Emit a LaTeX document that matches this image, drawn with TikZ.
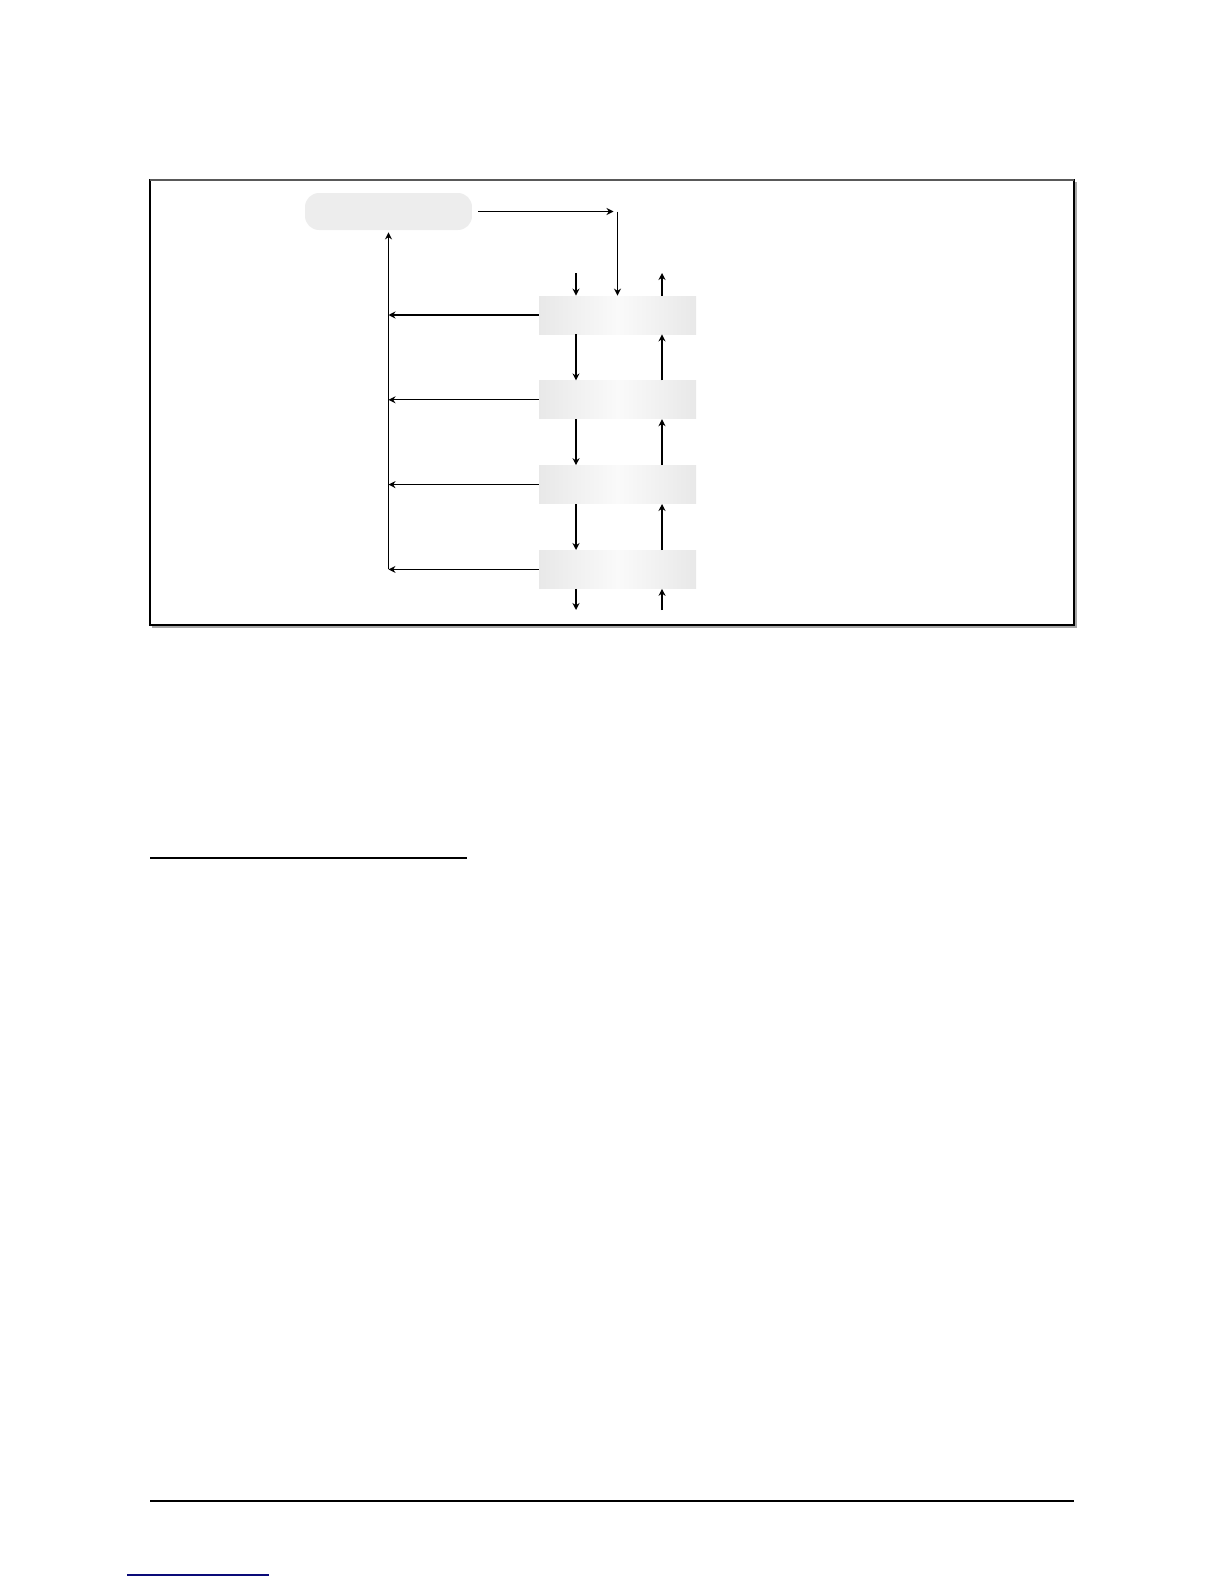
\documentclass[tikz,border=0pt]{standalone}
\usetikzlibrary{positioning,arrows.meta}
\definecolor{linknavy}{RGB}{10,10,120}

\begin{document}
\begin{tikzpicture}[x=0.5pt,y=-0.5pt,link/.style={draw,-{Stealth[length=3.5pt,width=3.5pt]},line width=0.6pt},stage/.style={left color=black!9,right color=black!9,middle color=black!2,minimum height=19pt,minimum width=78.5pt,inner sep=0pt},topbox/.style={stage,left color=black!7,right color=black!7,rounded corners=7pt,minimum height=18.5pt,minimum width=83.5pt}]
  \useasboundingbox (0,0) rectangle (1224,1584);
  % frame with shadow
  \draw[gray!70,line width=0.6pt] (1076,182) -- (1076,627) -- (152,627);
  \draw[line width=0.7pt] (150,180) rectangle (1074,625);
  \draw[black!65,line width=1.2pt] (150,180) -- (1074,180);
  \node[topbox] (t) at (388.5,211.5) {};
  \node[stage] (b1) at (617.5,315) {};
  \node[stage] (b2) [below=23pt of b1] {};
  \node[stage] (b3) [below=23pt of b2] {};
  \node[stage] (b4) [below=23pt of b3] {};
  \coordinate (dn) at (576,273);
  \coordinate (up) at (662,273);
  \coordinate (dnout) at (576,610);
  \coordinate (upin) at (662,610);
  \coordinate (c) at ([xshift=-2pt]t.east -| b1.north);
  \draw[link] ([xshift=3pt]t.east) -- (c); \draw[link] (t.east -| b1.north) -- (b1.north);
  \draw[link] (dn) -- (b1.north -| dn); \draw[link] (b1.north -| up) -- (up);
  \foreach \i/\j in {b1/b2,b2/b3,b3/b4} {
    \draw[link] (\i.south -| dn) -- (\j.north -| dn);
    \draw[link] (\j.north -| up) -- (\i.south -| up);
  }
  \draw[link] (b4.south -| dn) -- (dnout); \draw[link] (upin) -- (b4.south -| up);
  \foreach \i in {b1,b2,b3,b4} \draw[link] (\i.west) -- (\i.west -| t.south);
  \draw[link] (b4.west -| t.south) -- ([yshift=-1pt]t.south);
  % page rules
  \draw[line width=1.3pt] (150,858) -- (467,858);
  \draw[line width=0.7pt] (150,1501) -- (1074,1501);
  \draw[linknavy,line width=0.8pt] (127,1575) -- (269,1575);
\end{tikzpicture}
\end{document}
